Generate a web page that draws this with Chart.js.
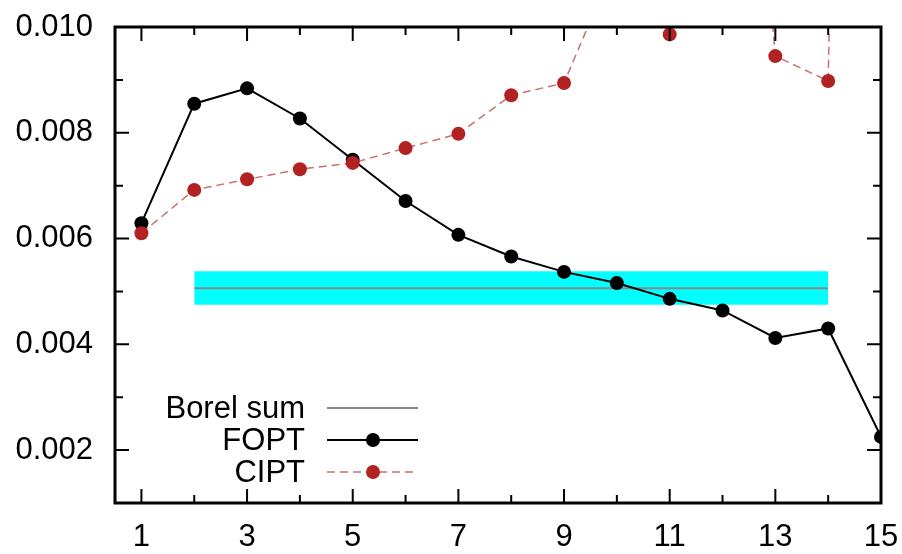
<!DOCTYPE html>
<html>
<head>
<meta charset="utf-8">
<script src="https://cdn.jsdelivr.net/npm/chart.js@4/dist/chart.umd.min.js"></script>
<style>
  html, body { margin: 0; padding: 0; background: #fff; }
  #wrap { width: 902px; height: 554px; }
</style>
</head>
<body>
<div id="wrap"><canvas id="myChart" width="902" height="554"></canvas></div>
<script>
// order of the expansion
var orders = [1, 2, 3, 4, 5, 6, 7, 8, 9, 10, 11, 12, 13, 14, 15];
var fopt = [0.00629, 0.00855, 0.00884, 0.00827, 0.00749, 0.00671, 0.00607, 0.00566,
            0.00537, 0.00516, 0.00486, 0.00464, 0.00412, 0.00430, 0.00225];
// 10, 12 and 15 run off the top of the plot
var cipt = [0.00610, 0.00692, 0.00712, 0.00731, 0.00743, 0.00771, 0.00798, 0.00871,
            0.00894, 0.01130, 0.00986, 0.02100, 0.00945, 0.00898, 0.06000];
var borelRange = [2, 14];
var borelSum = 0.00506;
var borelLow = 0.00475;
var borelHigh = 0.00538;
var xTicks = [1, 3, 5, 7, 9, 11, 13, 15];
var yTicks = [0.002, 0.004, 0.006, 0.008, 0.010];

var FONT = "'Liberation Sans', Arial, Helvetica, sans-serif";
var RED = "#b22222";

function pts(xs, ys) {
  return xs.map(function(x, i) { return { x: x, y: ys[i] }; });
}
function flat(v) {
  return borelRange.map(function(x) { return { x: x, y: v }; });
}

// gnuplot style frame with inward ticks on all sides
var framePlugin = {
  id: "frame",
  afterDraw: function(chart) {
    var ctx = chart.ctx, a = chart.chartArea;
    var xs = chart.scales.x, ys = chart.scales.y;
    ctx.save();
    ctx.strokeStyle = "#000";
    ctx.lineWidth = 2;
    ctx.beginPath();
    for (var i = 1; i <= 15; i++) {
      var px = xs.getPixelForValue(i);
      var len = i % 2 ? 14 : 8;
      ctx.moveTo(px, a.bottom); ctx.lineTo(px, a.bottom - len);
      ctx.moveTo(px, a.top); ctx.lineTo(px, a.top + len);
    }
    for (var k = 1; k <= 10; k++) {
      var py = ys.getPixelForValue(k / 1000);
      var l2 = k % 2 ? 8 : 14;
      ctx.moveTo(a.left, py); ctx.lineTo(a.left + l2, py);
      ctx.moveTo(a.right, py); ctx.lineTo(a.right - l2, py);
    }
    ctx.stroke();
    ctx.lineWidth = 3;
    ctx.strokeRect(a.left, a.top, a.right - a.left, a.bottom - a.top);

    // legend, text left of the sample
    var items = [
      { label: "Borel sum", color: "#888888", width: 2, dash: [], dot: null },
      { label: "FOPT", color: "#000000", width: 2, dash: [], dot: "#000000" },
      { label: "CIPT", color: "rgba(178,34,34,0.65)", width: 1.5, dash: [8, 5], dot: RED }
    ];
    var tx = a.left + 190, y0 = a.bottom - 95;
    ctx.font = "31px " + FONT;
    ctx.textAlign = "right";
    ctx.textBaseline = "middle";
    items.forEach(function(it, i) {
      var yy = y0 + i * 32;
      ctx.fillStyle = "#000";
      ctx.fillText(it.label, tx, yy + 1);
      ctx.strokeStyle = it.color;
      ctx.lineWidth = it.width;
      ctx.setLineDash(it.dash);
      ctx.beginPath();
      ctx.moveTo(tx + 22, yy); ctx.lineTo(tx + 113, yy);
      ctx.stroke();
      ctx.setLineDash([]);
      if (it.dot) {
        ctx.fillStyle = it.dot;
        ctx.beginPath();
        ctx.arc(tx + 68, yy, 7, 0, Math.PI * 2);
        ctx.fill();
      }
    });
    ctx.restore();
  }
};

var ctx = document.getElementById("myChart").getContext("2d");
var myChart = new Chart(ctx, {
  type: "line",
  data: {
    datasets: [
      {
        label: "band high",
        data: flat(borelHigh),
        borderWidth: 0,
        pointRadius: 0,
        backgroundColor: "#00ffff",
        fill: "+1",
        order: 5
      },
      {
        label: "band low",
        data: flat(borelLow),
        borderWidth: 0,
        pointRadius: 0,
        fill: false,
        order: 4
      },
      {
        label: "Borel sum",
        data: flat(borelSum),
        borderColor: "#888888",
        borderWidth: 2,
        pointRadius: 0,
        fill: false,
        order: 3
      },
      {
        label: "FOPT",
        data: pts(orders, fopt),
        borderColor: "#000",
        borderWidth: 2,
        pointRadius: 7,
        pointBackgroundColor: "#000",
        pointBorderWidth: 0,
        fill: false,
        order: 2
      },
      {
        label: "CIPT",
        data: pts(orders, cipt),
        borderColor: "rgba(178,34,34,0.65)",
        borderWidth: 1.5,
        borderDash: [8, 5],
        pointRadius: 7,
        pointBackgroundColor: RED,
        pointBorderWidth: 0,
        fill: false,
        order: 1
      }
    ]
  },
  options: {
    responsive: false,
    animation: false,
    layout: { padding: { top: 27, right: 21, left: 0, bottom: 0 } },
    plugins: { legend: { display: false }, tooltip: { enabled: false } },
    scales: {
      x: {
        type: "linear",
        min: 0.5,
        max: 15,
        grid: { display: false, drawTicks: false, tickLength: 0 },
        border: { display: false },
        afterBuildTicks: function(s) {
          s.ticks = xTicks.map(function(v) { return { value: v }; });
        },
        afterFit: function(s) {
          s.height = 51;
          s.paddingLeft = 0; s.paddingRight = 0;
        },
        ticks: {
          autoSkip: false,
          maxRotation: 0,
          padding: 16,
          color: "#000",
          font: { family: FONT, size: 31 },
          callback: function(v) { return String(v); }
        }
      },
      y: {
        min: 0.001,
        max: 0.010,
        grid: { display: false, drawTicks: false, tickLength: 0 },
        border: { display: false },
        afterBuildTicks: function(s) {
          s.ticks = yTicks.map(function(v) { return { value: v }; });
        },
        afterFit: function(s) {
          s.width = 115;
          s.paddingTop = 0; s.paddingBottom = 0;
        },
        ticks: {
          padding: 22,
          color: "#000",
          font: { family: FONT, size: 31 },
          callback: function(v) { return v.toFixed(3); }
        }
      }
    }
  },
  plugins: [framePlugin]
});
</script>
</body>
</html>
